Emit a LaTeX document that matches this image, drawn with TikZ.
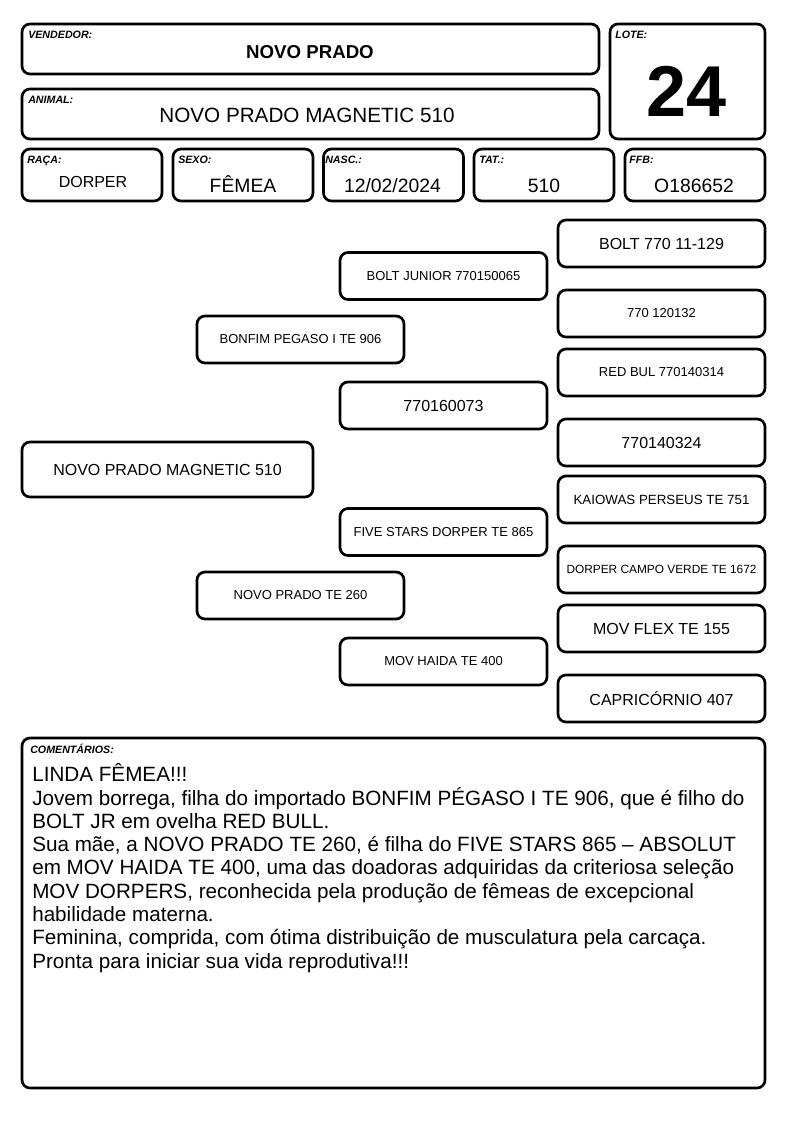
\documentclass[tikz,border=0pt]{standalone}
\usepackage{fontspec}
\setmainfont{Liberation Sans}
\usetikzlibrary{positioning}
\tikzset{
  cell/.style={rectangle, rounded corners=6pt, draw=black, line width=2pt, inner sep=0pt},
  wide/.style={cell, minimum width=432.75pt, minimum height=37.5pt},
  tiny/.style={cell, minimum width=105pt, minimum height=39pt},
  gen/.style={cell, minimum width=155.25pt, minimum height=35.25pt, font=\fontsize{9.75}{11}\selectfont},
  genbig/.style={gen, font=\fontsize{12}{14}\selectfont},
  tag/.style={anchor=base west, inner sep=0pt, font=\fontsize{8}{9}\selectfont\bfseries\itshape},
  val/.style={anchor=base, inner sep=0pt, font=\fontsize{14.5}{16}\selectfont}
}
\begin{document}
\begin{tikzpicture}[x=0.75pt, y=-0.75pt]
	\useasboundingbox (0,0) rectangle (794,1123);
	% header
	\node[wide] (vendedor) at (310.5,49) {};
	\node[wide] (animal) at (310.5,114) {};
	\node[cell, minimum width=116.25pt, minimum height=86.25pt] (lote) at (687.5,81.5) {};
	\node[tag] (tvendedor) at (28,39) {VENDEDOR:};
	\node[tag] (tanimal) at (28,104) {ANIMAL:};
	\node[tag] (tlote) at (615,39) {LOTE:};
	\node[anchor=base, inner sep=0pt, font=\fontsize{14}{16}\selectfont\bfseries] (nvendedor) at (310,59) {NOVO PRADO};
	\node[anchor=base, inner sep=0pt, font=\fontsize{15.5}{17}\selectfont] (nanimal) at (307,123) {NOVO PRADO MAGNETIC 510};
	\node[anchor=base, inner sep=0pt, font=\fontsize{54}{60}\selectfont\bfseries] (nlote) at (687,117) {24};
	
	% dados
	\node[tiny] (raca) at (92,175) {};
	\node[tiny] (sexo) at (243,175) {};
	\node[tiny] (nasc) at (393.5,175) {};
	\node[tiny] (tat) at (544,175) {};
	\node[tiny] (ffb) at (695,175) {};
	\node[tag] (traca) at (27,164) {RAÇA:};
	\node[tag] (tsexo) at (178,164) {SEXO:};
	\node[tag] (tnasc) at (325,164) {NASC.:};
	\node[tag] (ttat) at (479,164) {TAT.:};
	\node[tag] (tffb) at (629,164) {FFB:};
	\node[val, font=\fontsize{12}{14}\selectfont] (vraca) at (93,188) {DORPER};
	\node[val] (vsexo) at (243,193) {FÊMEA};
	\node[val] (vnasc) at (392.5,193) {12/02/2024};
	\node[val] (vtat) at (544,193) {510};
	\node[val] (vffb) at (694,193) {O186652};
	
	% pedigree
	\node[genbig, minimum width=218.25pt, minimum height=41.25pt] (an) at (167.5,469.5) {NOVO PRADO MAGNETIC 510};
	\node[gen] (p) at (300.5,339.5) {BONFIM PEGASO I TE 906};
	\node[gen] (m) at (300.5,595.5) {NOVO PRADO TE 260};
	\node[gen] (pp) at (443.5,276) {BOLT JUNIOR 770150065};
	\node[genbig] (pm) at (443.5,405.5) {770160073};
	\node[gen] (mp) at (443.5,532) {FIVE STARS DORPER TE 865};
	\node[gen] (mm) at (443.5,661.5) {MOV HAIDA TE 400};
	\node[genbig] (ppp) at (661.5,243.5) {BOLT 770 11-129};
	\node[gen] (ppm) at (661.5,313.5) {770 120132};
	\node[gen] (pmp) at (661.5,372.5) {RED BUL 770140314};
	\node[genbig] (pmm) at (661.5,442.5) {770140324};
	\node[gen, font=\fontsize{10}{12}\selectfont] (mpp) at (661.5,499.5) {KAIOWAS PERSEUS TE 751};
	\node[gen, font=\fontsize{8.9}{11}\selectfont] (mpm) at (661.5,569.5) {DORPER CAMPO VERDE TE 1672};
	\node[genbig] (mmp) at (661.5,628.5) {MOV FLEX TE 155};
	\node[genbig] (mmm) at (661.5,698.5) {CAPRICÓRNIO 407};
	
	% comentarios
	\node[cell, minimum width=557.25pt, minimum height=262.5pt] (coment) at (393.5,913) {};
	\node[tag] (tcoment) at (30,753) {COMENTÁRIOS:};
	\node[anchor=base west, align=left, inner sep=0pt, font=\fontsize{15.5}{17.45}\selectfont] (texto) at (32,968) {LINDA FÊMEA!!!\\
Jovem borrega, filha do importado BONFIM PÉGASO I TE 906, que é filho do\\
BOLT JR em ovelha RED BULL.\\
Sua mãe, a NOVO PRADO TE 260, é filha do FIVE STARS 865 – ABSOLUT\\
em MOV HAIDA TE 400, uma das doadoras adquiridas da criteriosa seleção\\
MOV DORPERS, reconhecida pela produção de fêmeas de excepcional\\
habilidade materna.\\
Feminina, comprida, com ótima distribuição de musculatura pela carcaça.\\
Pronta para iniciar sua vida reprodutiva!!!};
\end{tikzpicture}
\end{document}
